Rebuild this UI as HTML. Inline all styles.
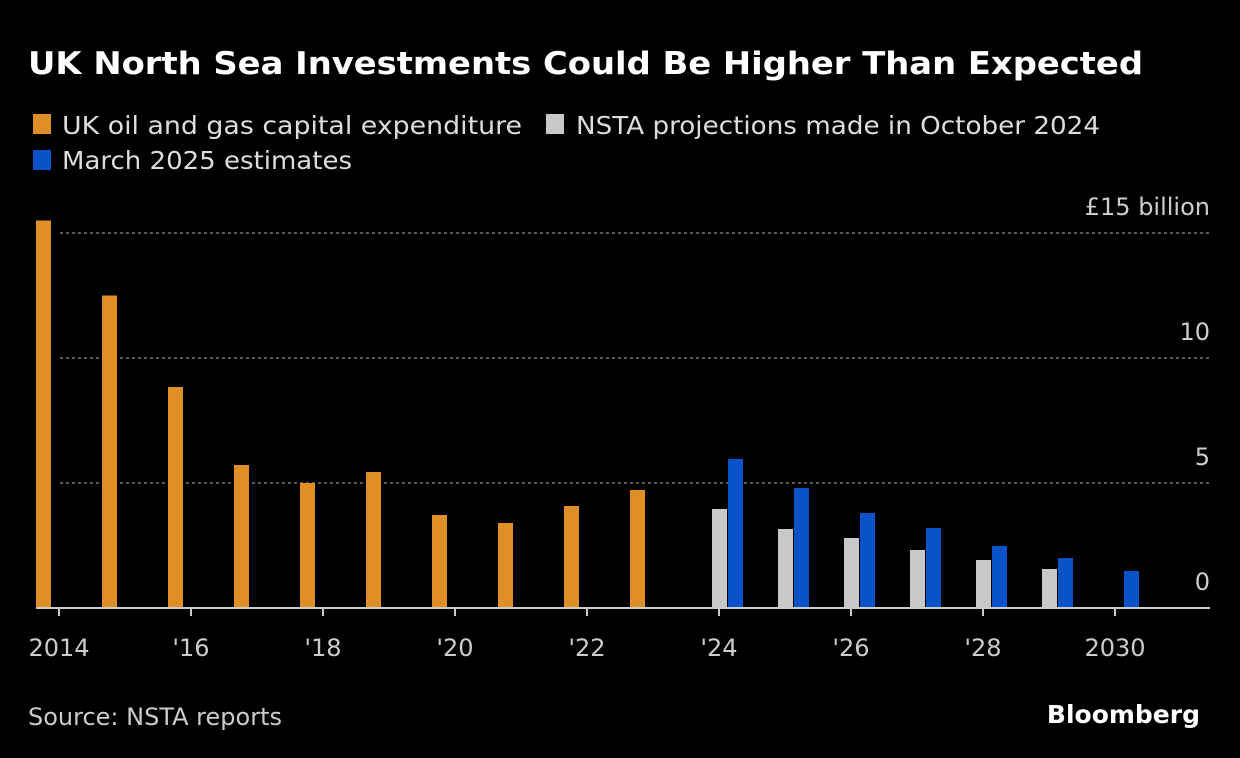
<!DOCTYPE html>
<html><head><meta charset="utf-8"><style>
body{margin:0;background:#000;width:1240px;height:758px;overflow:hidden;font-family:"DejaVu Sans","Liberation Sans",sans-serif;color:#ddd}
</style></head><body>
<svg width="1240" height="758" style="position:absolute;left:0;top:0" font-family="DejaVu Sans, Liberation Sans, sans-serif">
<text x="28" y="74" fill="#fff" font-size="31" font-weight="bold" textLength="1115" lengthAdjust="spacingAndGlyphs">UK North Sea Investments Could Be Higher Than Expected</text>
<g font-size="25" fill="#ddd">
<rect x="33" y="114" width="18" height="20" fill="#e08e26"/>
<text x="62" y="134" textLength="460" lengthAdjust="spacingAndGlyphs">UK oil and gas capital expenditure</text>
<rect x="546" y="114" width="18" height="20" fill="#c8c8c8"/>
<text x="576" y="134" textLength="524" lengthAdjust="spacingAndGlyphs">NSTA projections made in October 2024</text>
<rect x="33" y="150" width="18" height="20" fill="#0a52c8"/>
<text x="62" y="169" textLength="290" lengthAdjust="spacingAndGlyphs">March 2025 estimates</text>
</g>
<g id="plot"></g>
<text x="28" y="725" font-size="24" fill="#ccc">Source: NSTA reports</text>
<text x="1200" y="723" font-size="25" font-weight="bold" fill="#fff" text-anchor="end">Bloomberg</text>
</svg>
<script>
const years=[2014,2015,2016,2017,2018,2019,2020,2021,2022,2023,2024,2025,2026,2027,2028,2029,2030];
const capex=[15.5,12.5,8.84,5.72,5.0,5.44,3.72,3.4,4.08,4.72,null,null,null,null,null,null,null];
const nsta=[null,null,null,null,null,null,null,null,null,null,3.96,3.16,2.8,2.32,1.92,1.56,null];
const march=[null,null,null,null,null,null,null,null,null,null,5.96,4.8,3.8,3.2,2.48,2.0,1.48];
const yTicks=[0,5,10,15];
const yTickLabels=["0","5","10","£15 billion"];
const xTickYears=[2014,2016,2018,2020,2022,2024,2026,2028,2030];
const xTickLabels=["2014","'16","'18","'20","'22","'24","'26","'28","2030"];
const NS="http://www.w3.org/2000/svg";
const g=document.getElementById('plot');
function y(v){return 608-v*25;}
function x(yr){return 36+(yr-2014)*66;}
function mk(t,a){const e=document.createElementNS(NS,t);for(const k in a)e.setAttribute(k,a[k]);g.appendChild(e);return e;}
yTicks.forEach((v,i)=>{
 if(v>0){const l=mk('line',{x1:60,x2:1210,y1:y(v),y2:y(v),stroke:'#777','stroke-width':1.5,'stroke-dasharray':'3,3'});
 
 }
 const t=mk('text',{x:1210,y:y(v)-18,'text-anchor':'end','font-size':24,fill:'#ccc'});
 t.textContent=yTickLabels[i];
 
 
});
function bars(arr,off,col,name){arr.forEach((v,i)=>{if(v==null)return;
 const r=mk('rect',{x:x(years[i])+off,y:y(v),width:15,height:v*25,fill:col});
 
 });}
bars(capex,0,'#e08e26','bar-capex');
bars(nsta,16,'#c8c8c8','bar-nsta');
bars(march,32,'#0a52c8','bar-march');
const ax=mk('line',{x1:36,x2:1210,y1:608,y2:608,stroke:'#ccc','stroke-width':2});


xTickYears.forEach((yr,i)=>{
 const tx=x(yr)+23;
 const tk=mk('line',{x1:tx,x2:tx,y1:608,y2:616,stroke:'#ccc','stroke-width':2});
 
 
 const t=mk('text',{x:tx,y:656,'text-anchor':'middle','font-size':24,fill:'#ccc'});
 t.textContent=xTickLabels[i];
 
 
});
</script>
</body></html>
